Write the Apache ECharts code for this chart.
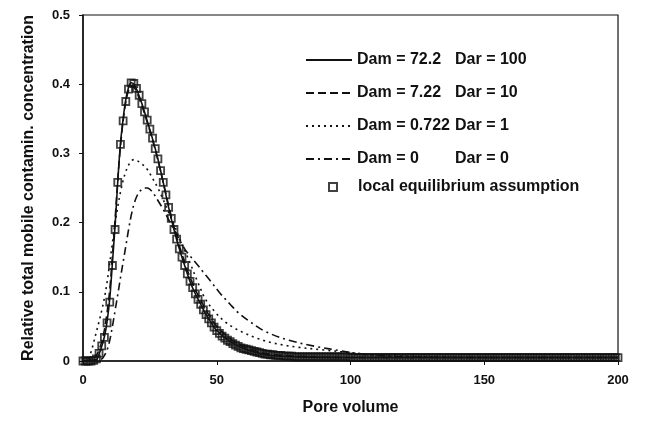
<!DOCTYPE html>
<html>
<head>
<meta charset="utf-8">
<title>Pore volume breakthrough curves</title>
<script src="https://cdn.jsdelivr.net/npm/echarts@6/dist/echarts.min.js"></script>
<style>
  html, body { margin: 0; padding: 0; background: #fff; }
  #chart { width: 646px; height: 421px; }
</style>
</head>
<body>
<div id="chart"></div>
<script>
// Dam = 72.2, Dar = 100 (solid)
var solidX = [0, 5, 6, 7, 8, 9, 10, 11, 12, 13, 14, 15, 16, 17, 18, 19, 20, 22, 24, 26, 28, 30, 32, 34, 36, 38, 40, 42, 44, 46, 48, 50, 55, 60, 65, 70, 80, 100, 150, 200]
var solidY = [0, 0.002, 0.01, 0.021, 0.035, 0.057, 0.09, 0.142, 0.196, 0.26, 0.314, 0.35, 0.378, 0.395, 0.402, 0.4, 0.393, 0.372, 0.347, 0.321, 0.292, 0.258, 0.222, 0.19, 0.162, 0.138, 0.115, 0.097, 0.082, 0.067, 0.055, 0.044, 0.028, 0.018, 0.012, 0.008, 0.006, 0.005, 0.005, 0.005]

// Dam = 7.22, Dar = 10 (dashed)
var dashX = [0, 4, 5, 6, 7, 8, 9, 10, 11, 12, 13, 14, 15, 16, 17, 18, 19, 20, 22, 24, 26, 28, 30, 32, 34, 36, 38, 40, 42, 44, 46, 48, 50, 55, 60, 65, 70, 80, 100, 150, 200]
var dashY = [0, 0.003, 0.008, 0.016, 0.028, 0.045, 0.07, 0.103, 0.152, 0.205, 0.262, 0.31, 0.347, 0.374, 0.391, 0.398, 0.396, 0.389, 0.369, 0.345, 0.319, 0.29, 0.258, 0.225, 0.194, 0.167, 0.143, 0.121, 0.103, 0.088, 0.073, 0.061, 0.05, 0.032, 0.021, 0.014, 0.01, 0.007, 0.005, 0.005, 0.005]

// Dam = 0.722, Dar = 1 (dotted)
var dotX = [0, 2, 3, 4, 5, 6, 7, 8, 9, 10, 11, 12, 13, 14, 15, 16, 17, 18, 19, 20, 22, 24, 26, 28, 30, 32, 34, 36, 38, 40, 43, 46, 50, 53, 56, 60, 65, 70, 75, 80, 90, 100, 110, 120, 150, 200]
var dotY = [0, 0.003, 0.013, 0.027, 0.042, 0.057, 0.073, 0.091, 0.114, 0.142, 0.171, 0.198, 0.223, 0.244, 0.261, 0.274, 0.283, 0.289, 0.291, 0.29, 0.285, 0.277, 0.264, 0.25, 0.233, 0.215, 0.197, 0.178, 0.16, 0.142, 0.113, 0.088, 0.068, 0.057, 0.049, 0.041, 0.033, 0.027, 0.023, 0.02, 0.016, 0.012, 0.009, 0.007, 0.005, 0.005]

// Dam = 0, Dar = 0 (dash-dot)
var dashDotX = [0, 7, 8, 9, 10, 11, 12, 13, 14, 15, 16, 17, 18, 19, 20, 21, 22, 23, 24, 25, 26, 28, 30, 33, 35, 38, 40, 43, 45, 48, 51, 55, 58, 62, 68, 77, 87, 96, 102, 110, 120, 150, 200]
var dashDotY = [0, 0.003, 0.008, 0.016, 0.03, 0.05, 0.073, 0.096, 0.12, 0.143, 0.166, 0.189, 0.21, 0.226, 0.237, 0.244, 0.248, 0.25, 0.25, 0.248, 0.244, 0.232, 0.219, 0.197, 0.183, 0.162, 0.152, 0.138, 0.128, 0.114, 0.099, 0.082, 0.07, 0.058, 0.043, 0.03, 0.021, 0.015, 0.011, 0.008, 0.006, 0.005, 0.005]

// local equilibrium assumption, one square per pore volume 0..200
var leaY = [
  0, 0, 0, 0, 0.001, 0.003, 0.011, 0.022, 0.034, 0.055,
  0.085, 0.138, 0.19, 0.258, 0.313, 0.347, 0.375, 0.393, 0.402, 0.401,
  0.394, 0.384, 0.372, 0.36, 0.348, 0.335, 0.322, 0.307, 0.292, 0.275,
  0.258, 0.24, 0.222, 0.206, 0.19, 0.176, 0.162, 0.15, 0.138, 0.126,
  0.115, 0.106, 0.097, 0.089, 0.082, 0.074, 0.067, 0.061, 0.055, 0.049,
  0.044, 0.04, 0.036, 0.033, 0.03, 0.028, 0.025, 0.023, 0.021, 0.019,
  0.018, 0.017, 0.016, 0.015, 0.014, 0.013, 0.012, 0.011, 0.01, 0.01,
  0.009, 0.009, 0.008, 0.008, 0.008, 0.007, 0.007, 0.007, 0.007, 0.006,
  0.006, 0.006, 0.006, 0.006, 0.006, 0.006, 0.006, 0.006, 0.006, 0.006,
  0.006, 0.006, 0.006, 0.006, 0.006, 0.006, 0.006, 0.006, 0.006, 0.006,
  0.005, 0.005, 0.005, 0.005, 0.005, 0.005, 0.005, 0.005, 0.005, 0.005,
  0.005, 0.005, 0.005, 0.005, 0.005, 0.005, 0.005, 0.005, 0.005, 0.005,
  0.005, 0.005, 0.005, 0.005, 0.005, 0.005, 0.005, 0.005, 0.005, 0.005,
  0.005, 0.005, 0.005, 0.005, 0.005, 0.005, 0.005, 0.005, 0.005, 0.005,
  0.005, 0.005, 0.005, 0.005, 0.005, 0.005, 0.005, 0.005, 0.005, 0.005,
  0.005, 0.005, 0.005, 0.005, 0.005, 0.005, 0.005, 0.005, 0.005, 0.005,
  0.005, 0.005, 0.005, 0.005, 0.005, 0.005, 0.005, 0.005, 0.005, 0.005,
  0.005, 0.005, 0.005, 0.005, 0.005, 0.005, 0.005, 0.005, 0.005, 0.005,
  0.005, 0.005, 0.005, 0.005, 0.005, 0.005, 0.005, 0.005, 0.005, 0.005,
  0.005, 0.005, 0.005, 0.005, 0.005, 0.005, 0.005, 0.005, 0.005, 0.005,
  0.005
]

var damLabels = ['Dam = 72.2', 'Dam = 7.22', 'Dam = 0.722', 'Dam = 0']
var darLabels = ['Dar = 100', 'Dar = 10', 'Dar = 1', 'Dar = 0']
var leaLabel = 'local equilibrium assumption'
var xTickLabels = ['0', '50', '100', '150', '200']
var yTickLabels = ['0', '0.1', '0.2', '0.3', '0.4', '0.5']

var FONT = '"Liberation Sans", Arial, sans-serif'
var INK = '#111'

function pairs(xs, ys) {
  return xs.map(function (x, i) { return [x, ys[i]] })
}

var lineNames = damLabels.map(function (d, i) { return d + '|' + darLabels[i] })
var dashTypes = ['solid', [8, 4], [2, 4], [8, 4, 2, 4]]
var curves = [pairs(solidX, solidY), pairs(dashX, dashY), pairs(dotX, dotY), pairs(dashDotX, dashDotY)]

var series = curves.map(function (data, i) {
  return {
    name: lineNames[i],
    type: 'line',
    data: data,
    symbol: 'none',
    smooth: 0.35,
    lineStyle: { color: INK, width: 1.6, type: dashTypes[i] },
    itemStyle: { color: INK }
  }
})

series.push({
  name: leaLabel,
  type: 'scatter',
  data: leaY.map(function (y, i) { return [i, y] }),
  symbol: 'rect',
  symbolSize: 7,
  itemStyle: { color: 'rgba(255,255,255,0)', borderColor: INK, borderWidth: 1.8 }
})

var chart = echarts.init(document.getElementById('chart'))
chart.setOption({
  backgroundColor: '#fff',
  animation: false,
  textStyle: { fontFamily: FONT, color: INK },
  grid: {
    left: 83,
    right: 28,
    top: 15,
    bottom: 54,
    show: true,
    borderColor: INK,
    borderWidth: 1.2
  },
  legend: [{
    data: lineNames,
    orient: 'vertical',
    left: 305,
    top: 52,
    padding: 0,
    itemWidth: 46,
    itemHeight: 14,
    itemGap: 17,
    itemStyle: { opacity: 0 },
    formatter: function (name) {
      var parts = name.split('|')
      return '{a|' + parts[0] + '}{b|' + parts[1] + '}'
    },
    textStyle: {
      rich: {
        a: { width: 98, fontSize: 16, fontWeight: 'bold', fontFamily: FONT, color: INK, lineHeight: 18 },
        b: { fontSize: 16, fontWeight: 'bold', fontFamily: FONT, color: INK, lineHeight: 18 }
      }
    }
  }, {
    data: [leaLabel],
    orient: 'vertical',
    left: 328,
    top: 179,
    padding: 0,
    itemWidth: 8,
    itemHeight: 8,
    formatter: function (name) {
      return '{p|}{a|' + name + '}'
    },
    textStyle: {
      rich: {
        p: { width: 16 },
        a: { fontSize: 16, fontWeight: 'bold', fontFamily: FONT, color: INK, lineHeight: 18 }
      }
    }
  }],
  xAxis: {
    type: 'value',
    min: 0,
    max: 200,
    interval: 50,
    name: 'Pore volume',
    nameLocation: 'middle',
    nameGap: 39,
    nameTextStyle: { fontSize: 16, fontWeight: 'bold', color: INK, fontFamily: FONT },
    axisLine: { lineStyle: { color: INK, width: 1.5 } },
    axisTick: { length: 4, lineStyle: { color: INK } },
    axisLabel: {
      margin: 13,
      fontSize: 13,
      fontWeight: 'bold',
      color: INK,
      formatter: function (v) { return xTickLabels[Math.round(v / 50)] }
    },
    splitLine: { show: false }
  },
  yAxis: {
    type: 'value',
    min: 0,
    max: 0.5,
    interval: 0.1,
    name: 'Relative total mobile contamin. concentration',
    nameLocation: 'middle',
    nameGap: 46,
    nameTextStyle: { fontSize: 16, fontWeight: 'bold', color: INK, fontFamily: FONT },
    axisLine: { lineStyle: { color: INK, width: 1.5 } },
    axisTick: { length: 4, lineStyle: { color: INK } },
    axisLabel: {
      margin: 13,
      fontSize: 13,
      fontWeight: 'bold',
      color: INK,
      formatter: function (v) { return yTickLabels[Math.round(v * 10)] }
    },
    splitLine: { show: false }
  },
  series: series
})
</script>
</body>
</html>
